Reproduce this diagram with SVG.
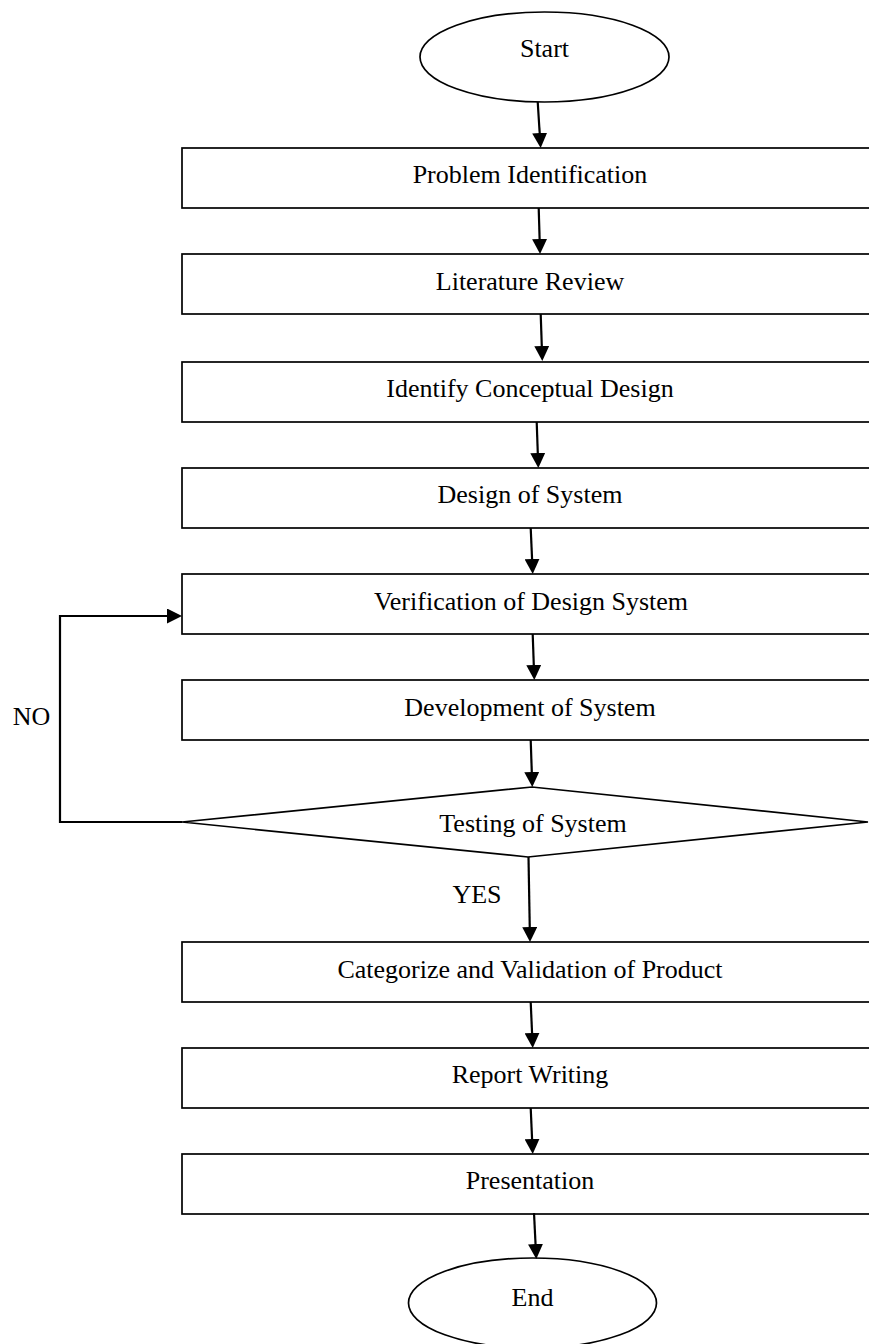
<svg xmlns="http://www.w3.org/2000/svg" width="869" height="1344" viewBox="0 0 869 1344">
<style>
.shape{fill:#fff;stroke:#000;stroke-width:1.7}
.lbl{font-family:"Liberation Serif","Times New Roman",serif;font-size:26px;fill:#000;text-anchor:middle}
.conn{fill:none;stroke:#000;stroke-width:2.2}
</style>
<defs>
<marker id="arr" viewBox="0 0 15 15" refX="3" refY="7.5" markerWidth="15" markerHeight="15" markerUnits="userSpaceOnUse" orient="auto">
<path d="M0,0 L15,7.5 L0,15 z" fill="#000"/>
</marker>
</defs>
<rect width="869" height="1344" fill="#fff"/>
<g id="start"><ellipse class="shape" cx="544.5" cy="57" rx="124.5" ry="45"/><text class="lbl" x="544.5" y="57">Start</text></g>
<g id="n1"><rect class="shape" x="182" y="148" width="710" height="60"/><text class="lbl" x="530" y="183">Problem Identification</text></g>
<g id="n2"><rect class="shape" x="182" y="254" width="710" height="60"/><text class="lbl" x="530" y="290">Literature Review</text></g>
<g id="n3"><rect class="shape" x="182" y="362" width="710" height="60"/><text class="lbl" x="530" y="397">Identify Conceptual Design</text></g>
<g id="n4"><rect class="shape" x="182" y="468" width="710" height="60"/><text class="lbl" x="530" y="503">Design of System</text></g>
<g id="n5"><rect class="shape" x="182" y="574" width="710" height="60"/><text class="lbl" x="531" y="610">Verification of Design System</text></g>
<g id="n6"><rect class="shape" x="182" y="680" width="710" height="60"/><text class="lbl" x="530" y="716">Development of System</text></g>
<g id="n7"><polygon class="shape" points="182,822 532,787 868,822 528,857"/><text class="lbl" x="533" y="832">Testing of System</text></g>
<g id="n8"><rect class="shape" x="182" y="942" width="710" height="60"/><text class="lbl" x="530" y="978">Categorize and Validation of Product</text></g>
<g id="n9"><rect class="shape" x="182" y="1048" width="710" height="60"/><text class="lbl" x="530" y="1083">Report Writing</text></g>
<g id="n10"><rect class="shape" x="182" y="1154" width="710" height="60"/><text class="lbl" x="530" y="1189">Presentation</text></g>
<g id="end"><ellipse class="shape" cx="532.5" cy="1303" rx="124" ry="45"/><text class="lbl" x="532.5" y="1306">End</text></g>
<g id="connectors">
<line class="conn" x1="537.7" y1="102" x2="539.9" y2="136" marker-end="url(#arr)"/>
<line class="conn" x1="538.7" y1="208" x2="539.7" y2="242" marker-end="url(#arr)"/>
<line class="conn" x1="540.7" y1="314" x2="541.9" y2="349" marker-end="url(#arr)"/>
<line class="conn" x1="536.7" y1="422" x2="537.9" y2="456" marker-end="url(#arr)"/>
<line class="conn" x1="530.7" y1="528" x2="532.2" y2="562" marker-end="url(#arr)"/>
<line class="conn" x1="532.7" y1="634" x2="533.9" y2="668" marker-end="url(#arr)"/>
<line class="conn" x1="530.7" y1="740" x2="531.9" y2="775" marker-end="url(#arr)"/>
<line class="conn" x1="528.5" y1="857" x2="529.8" y2="930" marker-end="url(#arr)"/>
<line class="conn" x1="530.7" y1="1002" x2="532.2" y2="1036" marker-end="url(#arr)"/>
<line class="conn" x1="530.7" y1="1108" x2="532.2" y2="1142" marker-end="url(#arr)"/>
<line class="conn" x1="534" y1="1213" x2="535.7" y2="1247" marker-end="url(#arr)"/>
<path class="conn" d="M182,822 H60 V616 H170" marker-end="url(#arr)"/>
<text class="lbl" x="31.5" y="725">NO</text>
<text class="lbl" x="477" y="903">YES</text>
</g>
</svg>
